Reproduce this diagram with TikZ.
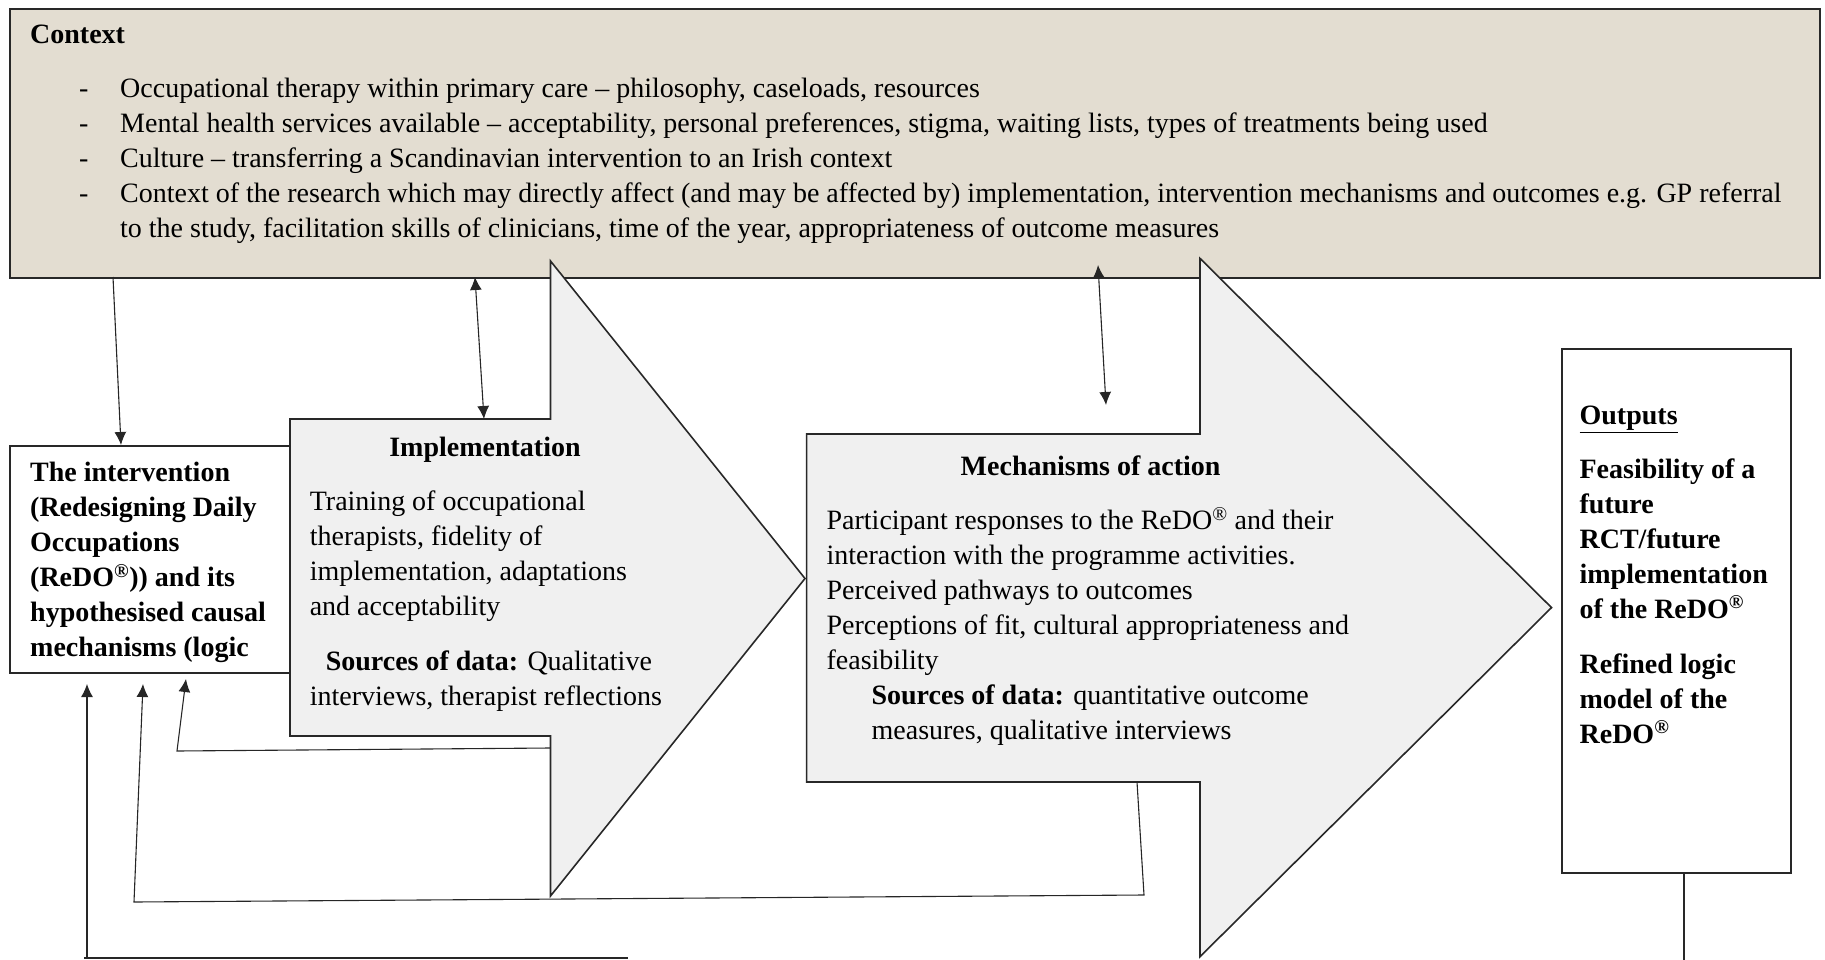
\documentclass[tikz,border=0pt]{standalone}
\usepackage{fontspec}
\setmainfont{Liberation Serif}
\usetikzlibrary{arrows.meta}
\definecolor{ctxfill}{RGB}{227,221,209}
\definecolor{arrfill}{RGB}{240,240,240}
\definecolor{edgecol}{RGB}{40,40,40}
\tikzset{
  shapeline/.style={draw=edgecol, line width=1.6pt, line join=miter},
  ctxbox/.style={shapeline, fill=ctxfill, anchor=north west, inner sep=0},
  plainbox/.style={shapeline, fill=white, anchor=north west, inner sep=0},
  bigarrow/.style={shapeline, fill=arrfill},
  conn/.style={draw=black!85, line width=1.1pt},
  tipend/.style={-{Latex[length=13pt,width=12pt]}},
  tipboth/.style={{Latex[length=13pt,width=12pt]}-{Latex[length=13pt,width=12pt]}},
  txt/.style={anchor=base west, inner sep=0, font=\fontsize{28}{35}\selectfont},
  ctxt/.style={anchor=base, inner sep=0, font=\fontsize{28}{35}\selectfont\bfseries},
}
\begin{document}
\begin{tikzpicture}[x=1pt,y=-1pt]
\useasboundingbox (0,0) rectangle (1825,960);

% context box
\node[ctxbox, minimum width=1810pt, minimum height=269pt] (context) at (9,8) {};
\node[txt] (ctxtitle) at (30,44) {\bfseries Context};
\node[txt] (ctxlist) at (79,97.5) {\parbox[t]{1740pt}{\raggedright
\makebox[41pt][l]{-}Occupational therapy within primary care – philosophy, caseloads, resources\\
\makebox[41pt][l]{-}Mental health services available – acceptability, personal preferences, stigma, waiting lists, types of treatments being used\\
\makebox[41pt][l]{-}Culture – transferring a Scandinavian intervention to an Irish context\\
\makebox[41pt][l]{-}Context of the research which may directly affect (and may be affected by) implementation, intervention mechanisms and outcomes e.g. GP referral\\
\hspace*{41pt}to the study, facilitation skills of clinicians, time of the year, appropriateness of outcome measures}};

% intervention box
\node[plainbox, minimum width=281pt, minimum height=227pt] (interv) at (9,445) {};
\node[txt] (intervtext) at (30,481.5) {\parbox[t]{400pt}{\raggedright\bfseries
The intervention\\
(Redesigning Daily\\
Occupations\\
(ReDO\textsuperscript{®})) and its\\
hypothesised causal\\
mechanisms (logic}};

% implementation arrow
\draw[bigarrow] (290,419) coordinate (implTL) -- (550.5,419) -- (550.5,261) -- (805,578.5) coordinate (implTip)
  -- (550.5,896) -- (550.5,736) coordinate (implBR) -- (290,736) -- cycle;
\node[ctxt] (impltitle) at (485,456) {Implementation};
\node[txt] (impltext) at (309.6,510.6) {\parbox[t]{600pt}{\raggedright
Training of occupational\\
therapists, fidelity of\\
implementation, adaptations\\
and acceptability\\[20pt]
\hspace*{16pt}\textbf{Sources of data:} Qualitative\\
interviews, therapist reflections}};

% mechanisms arrow
\draw[bigarrow] (806.6,434) -- (1200,434) -- (1200,258.4) -- (1551.5,607.6) coordinate (mechTip)
  -- (1200,956.7) -- (1200,782) -- (806.6,782) -- cycle;
\node[ctxt] (mechtitle) at (1090.6,475.7) {Mechanisms of action};
\node[txt] (mechtext) at (826.4,529.3) {\parbox[t]{800pt}{\raggedright
Participant responses to the ReDO\textsuperscript{®} and their\\
interaction with the programme activities.\\
Perceived pathways to outcomes\\
Perceptions of fit, cultural appropriateness and\\
feasibility\\
\hspace*{45pt}\textbf{Sources of data:} quantitative outcome\\
\hspace*{45pt}measures, qualitative interviews}};

% outputs box
\node[plainbox, minimum width=229pt, minimum height=524pt] (outputs) at (1561,348) {};
\node[txt] (outtitle) at (1579.4,424.5) {\underline{\textbf{Outputs}}};
\node[txt] (outtext) at (1579.4,478) {\parbox[t]{400pt}{\raggedright\bfseries
Feasibility of a\\
future\\
RCT/future\\
implementation\\
of the ReDO\textsuperscript{®}\\[20pt]
Refined logic\\
model of the\\
ReDO\textsuperscript{®}}};

% connector coordinates
\coordinate (c1a) at (113,277);
\coordinate (c1b) at (121,445);
\coordinate (c2a) at (475,277);
\coordinate (c2b) at (484,419);
\coordinate (c3a) at (1098,265);
\coordinate (c3b) at (1106,405);
\coordinate (fa0) at (84,958);
\coordinate (fa1) at (628,958);
\coordinate (fa2) at (87,958);
\coordinate (fa3) at (87,684);
\coordinate (fb0) at (1137,782);
\coordinate (fb1) at (1144,895);
\coordinate (fb2) at (134,902);
\coordinate (fb3) at (143,684);
\coordinate (fc0) at (550.5,748);
\coordinate (fc1) at (177,751);
\coordinate (fc2) at (186,679);
\coordinate (o0) at (1684,872);
\coordinate (o1) at (1684,960);

% connectors
\draw[conn,tipend] (c1a) -- (c1b);
\draw[conn,tipboth] (c2a) -- (c2b);
\draw[conn,tipboth] (c3a) -- (c3b);
\draw[conn] (fa0) -- (fa1);
\draw[conn,tipend] (fa2) -- (fa3);
\draw[conn,tipend] (fb0) -- (fb1) -- (fb2) -- (fb3);
\draw[conn,tipend] (fc0) -- (fc1) -- (fc2);
\draw[shapeline] (o0) -- (o1);
\end{tikzpicture}
\end{document}
